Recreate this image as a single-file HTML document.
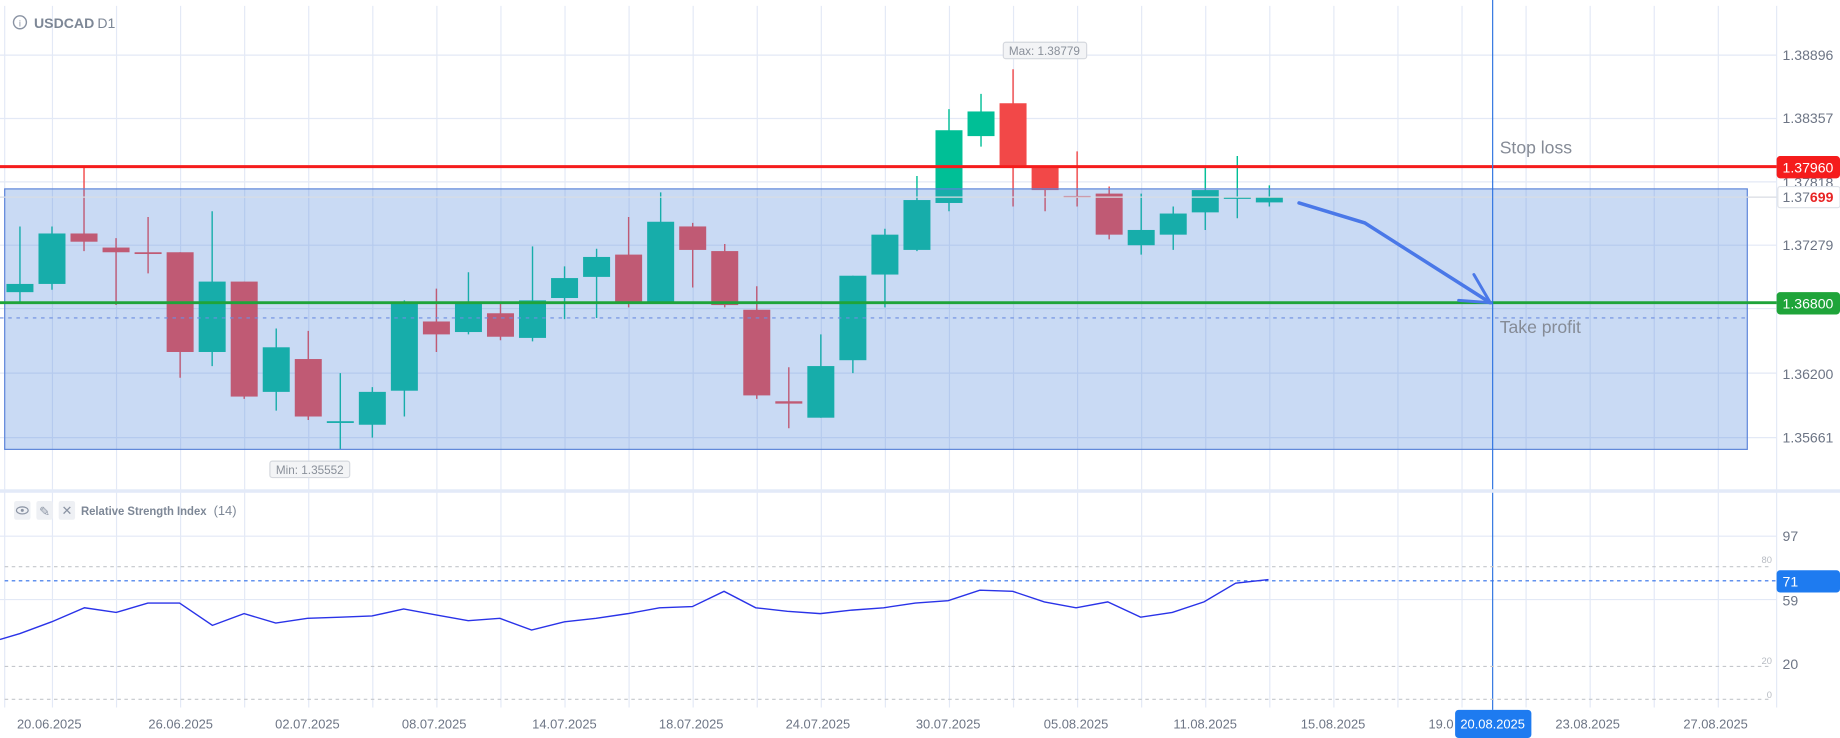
<!DOCTYPE html>
<html><head><meta charset="utf-8"><style>
html,body{margin:0;padding:0;background:#fff;width:1840px;height:738px;overflow:hidden}
svg{display:block}
text{font-family:"Liberation Sans",sans-serif}
</style></head><body>
<svg width="1840" height="738" viewBox="0 0 1568 629" preserveAspectRatio="none" xmlns="http://www.w3.org/2000/svg">
<rect width="1568" height="629" fill="#fff"/>
<g stroke="#e3e9f6" stroke-width="1">
<line x1="0" y1="47" x2="1514" y2="47"/><line x1="0" y1="101" x2="1514" y2="101"/><line x1="0" y1="155" x2="1514" y2="155"/><line x1="0" y1="209" x2="1514" y2="209"/><line x1="0" y1="263" x2="1514" y2="263"/><line x1="0" y1="318" x2="1514" y2="318"/><line x1="0" y1="373" x2="1514" y2="373"/>
<line x1="0" y1="457" x2="1514" y2="457"/><line x1="0" y1="511" x2="1514" y2="511"/>
<line x1="4" y1="5" x2="4" y2="603"/><line x1="1514" y1="5" x2="1514" y2="603"/>
<path d="M44.7 5V603M99.3 5V603M153.9 5V603M208.5 5V603M263.1 5V603M317.7 5V603M372.3 5V603M426.9 5V603M481.5 5V603M536.1 5V603M590.7 5V603M645.3 5V603M699.9 5V603M754.5 5V603M809.1 5V603M863.7 5V603M918.3 5V603M972.9 5V603M1027.5 5V603M1082.1 5V603M1136.7 5V603M1191.3 5V603M1245.9 5V603M1300.5 5V603M1355.1 5V603M1409.7 5V603M1464.3 5V603"/>
</g>
<g fill="#00bf96">
<path stroke="#00bf96" stroke-width="1.2" fill="none" d="M17 193V257M44.3 193V247M180.8 180V312M235.4 280V350M290 318V383M317.3 330V373M344.6 256V355M399.2 232V285M453.8 210V291M481.1 227V272M508.4 212V271M563 164V258M699.5 285V356M726.8 235V318M754.1 195V262M781.4 150V214M808.7 93V180M836 80V125M972.5 165V217M999.8 176V213M1027.1 142V196M1054.4 133V186M1081.7 158V176"/>
<rect x="5.5" y="242" width="23" height="7"/><rect x="32.8" y="199" width="23" height="43"/><rect x="169.3" y="240" width="23" height="60"/><rect x="223.9" y="296" width="23" height="38"/><rect x="278.5" y="359" width="23" height="1.5"/><rect x="305.8" y="334" width="23" height="28"/><rect x="333.1" y="259" width="23" height="74"/><rect x="387.7" y="259" width="23" height="24"/><rect x="442.3" y="256" width="23" height="32"/><rect x="469.6" y="237" width="23" height="17"/><rect x="496.9" y="219" width="23" height="17"/><rect x="551.5" y="189" width="23" height="69"/><rect x="688" y="312" width="23" height="44"/><rect x="715.3" y="235" width="23" height="72"/><rect x="742.6" y="200" width="23" height="34"/><rect x="769.9" y="170.5" width="23" height="42.5"/><rect x="797.2" y="111" width="23" height="62"/><rect x="824.5" y="95" width="23" height="21"/><rect x="961" y="196" width="23" height="13"/><rect x="988.3" y="182" width="23" height="18"/><rect x="1015.6" y="162" width="23" height="19"/><rect x="1042.9" y="168" width="23" height="1.5"/><rect x="1070.2" y="167.5" width="23" height="5"/>
</g>
<g fill="#f24848">
<path stroke="#f24848" stroke-width="1.2" fill="none" d="M71.6 142V214M98.9 203V260M126.2 185V233M153.5 215V322M208.1 240V340M262.7 282V358M371.9 246V300M426.5 258V290M535.7 185V262M590.3 190V245M617.6 208V262M644.9 244V340M672.2 313V365M863.3 59V176M890.6 142V180M917.9 129V176M945.2 159V204"/>
<rect x="60.1" y="199" width="23" height="7"/><rect x="87.4" y="211" width="23" height="4"/><rect x="114.7" y="215" width="23" height="1.5"/><rect x="142" y="215" width="23" height="85"/><rect x="196.6" y="240" width="23" height="98"/><rect x="251.2" y="306" width="23" height="49"/><rect x="360.4" y="274" width="23" height="11"/><rect x="415" y="267" width="23" height="20"/><rect x="524.2" y="217" width="23" height="42"/><rect x="578.8" y="193" width="23" height="20"/><rect x="606.1" y="214" width="23" height="46"/><rect x="633.4" y="264" width="23" height="73"/><rect x="660.7" y="342" width="23" height="2"/><rect x="851.8" y="88" width="23" height="53"/><rect x="879.1" y="142" width="23" height="20"/><rect x="906.4" y="167" width="23" height="1.5"/><rect x="933.7" y="165" width="23" height="35"/>
</g>
<rect x="4" y="161" width="1485" height="222" fill="rgba(76,132,218,0.3)" stroke="#5b84d9" stroke-width="1"/>
<line x1="0" y1="271" x2="1489" y2="271" stroke="#6d8ee0" stroke-width="1" stroke-dasharray="3,4"/>
<line x1="0" y1="168" x2="1514" y2="168" stroke="#d8dce3" stroke-width="1"/>
<line x1="0" y1="142" x2="1514" y2="142" stroke="#f51c1c" stroke-width="2.5"/>
<line x1="0" y1="258" x2="1514" y2="258" stroke="#1fa43a" stroke-width="2.5"/>
<polyline points="1107,173 1163,190 1270,258" fill="none" stroke="#4a78e8" stroke-width="3" stroke-linecap="round"/>
<polyline points="1256,234 1270,258 1243,256" fill="none" stroke="#4a78e8" stroke-width="2.5" stroke-linecap="round"/>
<text x="1278" y="131" font-size="15" fill="#858b96">Stop loss</text>
<text x="1278" y="284" font-size="15" fill="#858b96">Take profit</text>
<line x1="1272" y1="0" x2="1272" y2="605" stroke="#2f74e0" stroke-width="1"/>
<rect x="855" y="36" width="71" height="14" rx="2" fill="#f3f4f6" stroke="#d5d8de"/>
<text x="890" y="47" font-size="10" fill="#8a909a" text-anchor="middle">Max: 1.38779</text>
<rect x="230" y="393" width="68" height="14" rx="2" fill="#f3f4f6" stroke="#d5d8de"/>
<text x="264" y="404" font-size="10" fill="#8a909a" text-anchor="middle">Min: 1.35552</text>
<circle cx="17" cy="19" r="5.5" fill="none" stroke="#8a93a3" stroke-width="1.2"/><text x="17" y="22.5" font-size="8" fill="#8a93a3" text-anchor="middle">i</text>
<text x="29" y="24" font-size="12" font-weight="bold" fill="#7d8796">USDCAD</text><text x="83" y="24" font-size="12" fill="#7d8796">D1</text>
<g font-size="12" fill="#6d7585">
<text x="1519" y="51">1.38896</text><text x="1519" y="105">1.38357</text><text x="1519" y="213">1.37279</text><text x="1519" y="323">1.36200</text><text x="1519" y="377">1.35661</text>
<text x="1519" y="160">1.37818</text>
</g>
<rect x="1515" y="159" width="53" height="18" rx="2" fill="#fff" stroke="#dde1e8"/>
<text x="1519" y="172" font-size="12" fill="#6d7585">1.37<tspan fill="#e82424" font-weight="bold">699</tspan></text>
<rect x="1514" y="133" width="54" height="19" rx="3" fill="#f51c1c"/><text x="1519" y="147" font-size="12" fill="#fff">1.37960</text>
<rect x="1514" y="249" width="54" height="19" rx="3" fill="#1fa43a"/><text x="1519" y="263" font-size="12" fill="#fff">1.36800</text>
<rect x="0" y="417" width="1568" height="3" fill="#e3eaf8"/>
<g stroke="#c4c7cc" stroke-width="1" stroke-dasharray="3,3">
<line x1="4" y1="483" x2="1510" y2="483"/><line x1="4" y1="568" x2="1510" y2="568"/><line x1="4" y1="596" x2="1510" y2="596"/>
</g>
<line x1="4" y1="495" x2="1514" y2="495" stroke="#2f6ee8" stroke-dasharray="3,3"/>
<polyline fill="none" stroke="#2a33e8" stroke-width="1.2" points="0,545 17,540 44,530 72,518 99,522 126,514 153,514 181,533 208,523 235,531 262,527 290,526 317,525 344,519 371,524 399,529 426,527 453,537 481,530 508,527 535,523 562,518 590,517 617,504 644,518 671,521 699,523 726,520 753,518 780,514 808,512 835,503 863,504 890,513 917,518 944,513 972,526 999,522 1026,513 1053,497 1081,494"/>
<rect x="12" y="427" width="14" height="16" rx="2" fill="#eef0f4"/><ellipse cx="19" cy="435" rx="5" ry="3" fill="none" stroke="#8a93a3"/><circle cx="19" cy="435" r="1.3" fill="#8a93a3"/>
<rect x="31" y="427" width="14" height="16" rx="2" fill="#eef0f4"/><text x="38" y="440" font-size="11" fill="#8a93a3" text-anchor="middle">✎</text>
<rect x="50" y="427" width="14" height="16" rx="2" fill="#eef0f4"/><text x="57" y="439" font-size="11" fill="#8a93a3" text-anchor="middle">✕</text>
<text x="69" y="439" font-size="10" font-weight="bold" fill="#7d8796" textLength="107" lengthAdjust="spacingAndGlyphs">Relative Strength Index</text><text x="182" y="439" font-size="11" fill="#7d8796">(14)</text>
<g font-size="12" fill="#6d7585"><text x="1519" y="461">97</text><text x="1519" y="516">59</text><text x="1519" y="570">20</text></g>
<g font-size="8" fill="#b8bcc3" text-anchor="end"><text x="1510" y="480">80</text><text x="1510" y="566">20</text><text x="1510" y="595">0</text></g>
<rect x="1514" y="486" width="54" height="19" rx="3" fill="#1e7bf0"/><text x="1519" y="500" font-size="12" fill="#fff">71</text>
<g font-size="11" fill="#6d7585" text-anchor="middle">
<text x="42" y="621">20.06.2025</text><text x="154" y="621">26.06.2025</text><text x="262" y="621">02.07.2025</text><text x="370" y="621">08.07.2025</text><text x="481" y="621">14.07.2025</text><text x="589" y="621">18.07.2025</text><text x="697" y="621">24.07.2025</text><text x="808" y="621">30.07.2025</text><text x="917" y="621">05.08.2025</text><text x="1027" y="621">11.08.2025</text><text x="1136" y="621">15.08.2025</text><text x="1228" y="621">19.0</text><text x="1353" y="621">23.08.2025</text><text x="1462" y="621">27.08.2025</text>
</g>
<rect x="1240" y="605" width="65" height="24" rx="3" fill="#1e7bf0"/><text x="1272" y="621" font-size="11" fill="#fff" text-anchor="middle">20.08.2025</text>
</svg>
</body></html>
